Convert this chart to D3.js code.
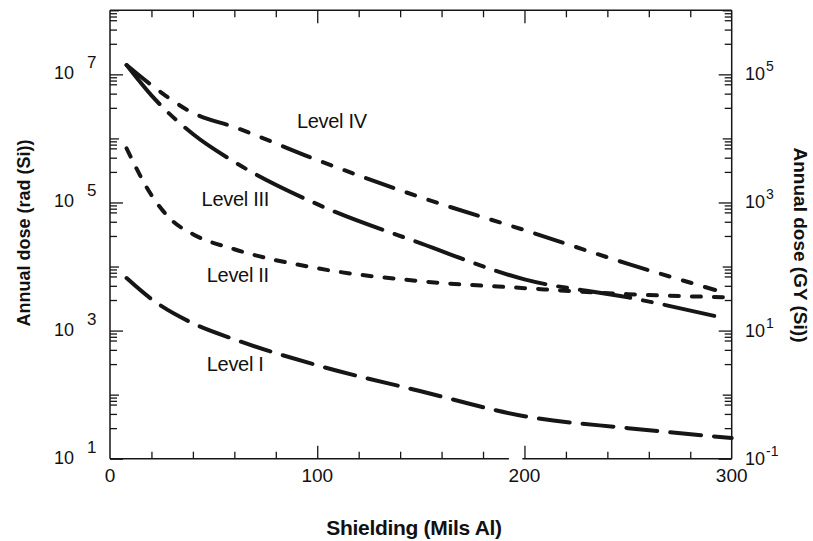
<!DOCTYPE html>
<html>
<head>
<meta charset="utf-8">
<script src="https://cdn.jsdelivr.net/npm/d3@7"></script>
<style>
  html, body { margin: 0; padding: 0; background: #fff; }
  svg { display: block; }
  text { font-family: "Liberation Sans", Arial, Helvetica, sans-serif; fill: #111; }
</style>
</head>
<body>
<svg id="chart" width="813" height="541"></svg>
<script>
// ---------------- data ----------------
const levelI_x   = [8, 20, 40, 60, 100, 150, 200, 250, 300];
const levelI     = [6600, 3100, 1300, 730, 287, 113, 46, 30, 21];

const levelII_x  = [8, 20, 30, 40, 60, 100, 150, 200, 250, 300];
const levelII    = [700000, 130000, 52000, 32000, 18600, 9400, 5900, 4600, 3700, 3300];

const levelIII_x = [8, 20, 40, 60, 100, 150, 200, 250, 297];
const levelIII   = [14000000, 4700000, 1170000, 430000, 94000, 23000, 6300, 3300, 1550];

const levelIV_x  = [8, 20, 40, 60, 100, 150, 200, 250, 292];
const levelIV    = [14000000, 6800000, 2500000, 1500000, 460000, 120000, 37000, 11000, 4300];

const seriesNames = ["Level I", "Level II", "Level III", "Level IV"];

const xTicksMajor = [0, 100, 200, 300];
const xTicksMinor = [20, 40, 60, 80, 120, 140, 160, 180, 220, 240, 260, 280];
const leftLabelExp  = [1, 3, 5, 7];
const rightLabelExp = [-1, 1, 3, 5];
const decadeExp = [1, 2, 3, 4, 5, 6, 7, 8];
const minorMult = [3, 5, 7, 8, 9];

const xTitle = "Shielding (Mils Al)";
const yLeftTitle = "Annual dose (rad (Si))";
const yRightTitle = "Annual dose (GY (Si))";

// ---------------- layout ----------------
const L = 110, R = 731.7, T = 10.3, B = 458.7;
const svg = d3.select("#chart");
const x = d3.scaleLinear().domain([0, 300]).range([L, R]);
const y = d3.scaleLog().domain([10, 1e8]).range([B, T]);
const yR = d3.scaleLog().domain([0.1, 1e6]).range([B, T]);
const ink = "#161616";

// frame (bottom line has a small break just before 200, as in the source)
const frame = svg.append("g").attr("stroke", ink).attr("stroke-width", 1.5).attr("fill", "none");
frame.append("line").attr("x1", L).attr("x2", R).attr("y1", T).attr("y2", T);
frame.append("line").attr("x1", L).attr("x2", L).attr("y1", T).attr("y2", B);
frame.append("line").attr("x1", R).attr("x2", R).attr("y1", T).attr("y2", B);
frame.append("line").attr("x1", x(0)).attr("x2", x(192.5)).attr("y1", B).attr("y2", B);
frame.append("line").attr("x1", x(199)).attr("x2", x(300)).attr("y1", B).attr("y2", B);

function tickAxis(gen, tx, ty, vals, size) {
  const g = svg.append("g").attr("transform", `translate(${tx},${ty})`)
    .call(gen.tickValues(vals).tickSize(size).tickFormat(() => ""));
  g.select(".domain").remove();
  g.selectAll(".tick line").attr("stroke", ink).attr("stroke-width", 1.3);
  return g;
}

// x ticks (bottom & top, inward)
tickAxis(d3.axisBottom(x), 0, B, xTicksMinor, -7);
tickAxis(d3.axisBottom(x), 0, B, xTicksMajor.slice(1, 3), -13);
tickAxis(d3.axisTop(x), 0, T, xTicksMinor, -7);
tickAxis(d3.axisTop(x), 0, T, xTicksMajor.slice(1, 3), -13);

// y ticks
const minorVals = [];
decadeExp.slice(0, -1).forEach(e => minorMult.forEach(m => minorVals.push(m * Math.pow(10, e))));
const labeledDec = leftLabelExp.map(e => Math.pow(10, e));
const otherDec = decadeExp.filter(e => !leftLabelExp.includes(e)).map(e => Math.pow(10, e));
tickAxis(d3.axisLeft(y), L, 0, minorVals, -7);
tickAxis(d3.axisLeft(y), L, 0, otherDec, -9);
tickAxis(d3.axisLeft(y), L, 0, labeledDec, -13);
const minorValsR = minorVals.map(v => v / 100);
tickAxis(d3.axisRight(yR), R, 0, minorValsR, -7);
tickAxis(d3.axisRight(yR), R, 0, otherDec.map(v => v / 100), -9);
tickAxis(d3.axisRight(yR), R, 0, rightLabelExp.map(e => Math.pow(10, e)), -13);

// x tick labels
svg.append("g").selectAll("text").data(xTicksMajor).join("text")
  .attr("x", d => x(d)).attr("y", 482)
  .attr("text-anchor", "middle").attr("font-size", 19)
  .text(d => d);

// left y labels: "10  n"
const ll = svg.append("g");
leftLabelExp.forEach(e => {
  const yy = y(Math.pow(10, e));
  ll.append("text").attr("x", 74).attr("y", yy + 5).attr("text-anchor", "end")
    .attr("font-size", 18).text("10");
  ll.append("text").attr("x", 87).attr("y", yy - 6).attr("font-size", 17).text(e);
});

// right y labels: tight superscripts
const rl = svg.append("g");
rightLabelExp.forEach(e => {
  const yy = yR(Math.pow(10, e));
  rl.append("text").attr("x", 745).attr("y", yy + 6).attr("font-size", 18).text("10");
  rl.append("text").attr("x", 766).attr("y", yy - 3).attr("font-size", 14).text(e);
});

// axis titles
svg.append("text").attr("x", 414).attr("y", 535).attr("text-anchor", "middle")
  .attr("font-size", 21).attr("font-weight", "bold").attr("letter-spacing", -0.3).text(xTitle);
svg.append("text").attr("transform", "translate(30,233) rotate(-90)")
  .attr("text-anchor", "middle").attr("font-size", 18).attr("font-weight", "bold").text(yLeftTitle);
svg.append("text").attr("transform", "translate(794,245) rotate(90)")
  .attr("text-anchor", "middle").attr("font-size", 19).attr("font-weight", "bold").text(yRightTitle);

// curves
const series = [
  { xs: levelI_x,   ys: levelI,   dash: "31,13" },
  { xs: levelII_x,  ys: levelII,  dash: "9,13" },
  { xs: levelIII_x, ys: levelIII, dash: "51,13,9,13" },
  { xs: levelIV_x,  ys: levelIV,  dash: "29,14,9,14,9,14" }
];
const line = d3.line().x(d => x(d[0])).y(d => y(d[1])).curve(d3.curveMonotoneX);
svg.append("g").selectAll("path").data(series).join("path")
  .attr("d", s => line(s.xs.map((v, i) => [v, s.ys[i]])))
  .attr("fill", "none").attr("stroke", ink).attr("stroke-width", 4)
  .attr("stroke-linecap", "round").attr("stroke-dasharray", s => s.dash);

// series labels (anchored in data space)
const labelPos = [[46.7, 2.364], [46.7, 3.755], [44.2, 4.942], [90.2, 6.161]];
svg.append("g").selectAll("text").data(seriesNames).join("text")
  .attr("x", (d, i) => x(labelPos[i][0]))
  .attr("y", (d, i) => y(Math.pow(10, labelPos[i][1])))
  .attr("font-size", 20).attr("letter-spacing", -0.3)
  .text(d => d);
</script>
</body>
</html>
